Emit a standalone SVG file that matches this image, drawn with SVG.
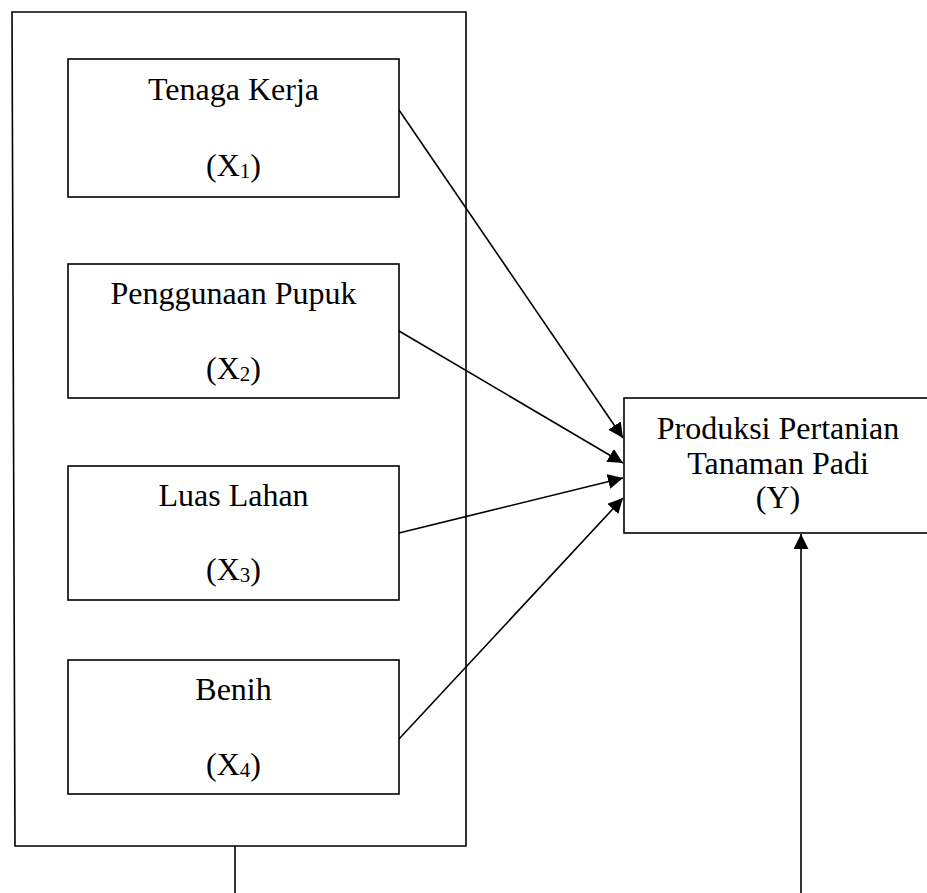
<svg xmlns="http://www.w3.org/2000/svg" width="927" height="893" viewBox="0 0 927 893">
<style>
.box{fill:#fff;stroke:#000;stroke-width:1.6}
.t{font-family:"Liberation Serif","Times New Roman",serif;font-size:32px;fill:#000;text-anchor:middle}
.sub{font-size:21px}
.c{stroke:#000;stroke-width:1.6;fill:none}
</style>
<defs>
<marker id="ah" markerUnits="userSpaceOnUse" markerWidth="16" markerHeight="16" refX="15" refY="7.5" orient="auto">
<path d="M0,0 L15,7.5 L0,15 z" fill="#000"/>
</marker>
</defs>
<rect width="927" height="893" fill="#fff"/>
<g id="outer">
<polygon class="box" points="12,12 466,12 466,846 15,846" fill="none"/>
</g>
<g id="x1">
<rect class="box" x="68" y="59" width="331" height="138"/>
<text class="t" x="233.5" y="100">Tenaga Kerja</text>
<text class="t" x="233.5" y="176">(X<tspan class="sub" dy="2">1</tspan><tspan dy="-2">)</tspan></text>
</g>
<g id="x2">
<rect class="box" x="68" y="264" width="331" height="134"/>
<text class="t" x="233.5" y="304">Penggunaan Pupuk</text>
<text class="t" x="233.5" y="379">(X<tspan class="sub" dy="2">2</tspan><tspan dy="-2">)</tspan></text>
</g>
<g id="x3">
<rect class="box" x="68" y="466" width="331" height="134"/>
<text class="t" x="233.5" y="506">Luas Lahan</text>
<text class="t" x="233.5" y="580">(X<tspan class="sub" dy="2">3</tspan><tspan dy="-2">)</tspan></text>
</g>
<g id="x4">
<rect class="box" x="68" y="660" width="331" height="134"/>
<text class="t" x="233.5" y="700">Benih</text>
<text class="t" x="233.5" y="775">(X<tspan class="sub" dy="2">4</tspan><tspan dy="-2">)</tspan></text>
</g>
<g id="y">
<rect class="box" x="624" y="398" width="320" height="135"/>
<text class="t" x="778" y="439">Produksi Pertanian</text>
<text class="t" x="778" y="474">Tanaman Padi</text>
<text class="t" x="778" y="508">(Y)</text>
</g>
<g id="connectors">
<line class="c" x1="399" y1="110" x2="623" y2="438" marker-end="url(#ah)"/>
<line class="c" x1="399" y1="331" x2="623" y2="463" marker-end="url(#ah)"/>
<line class="c" x1="399" y1="533" x2="623" y2="478" marker-end="url(#ah)"/>
<line class="c" x1="399" y1="739" x2="623" y2="498" marker-end="url(#ah)"/>
<line class="c" x1="235" y1="846" x2="235" y2="893"/>
<line class="c" x1="801" y1="893" x2="801" y2="534" marker-end="url(#ah)"/>
</g>
</svg>
